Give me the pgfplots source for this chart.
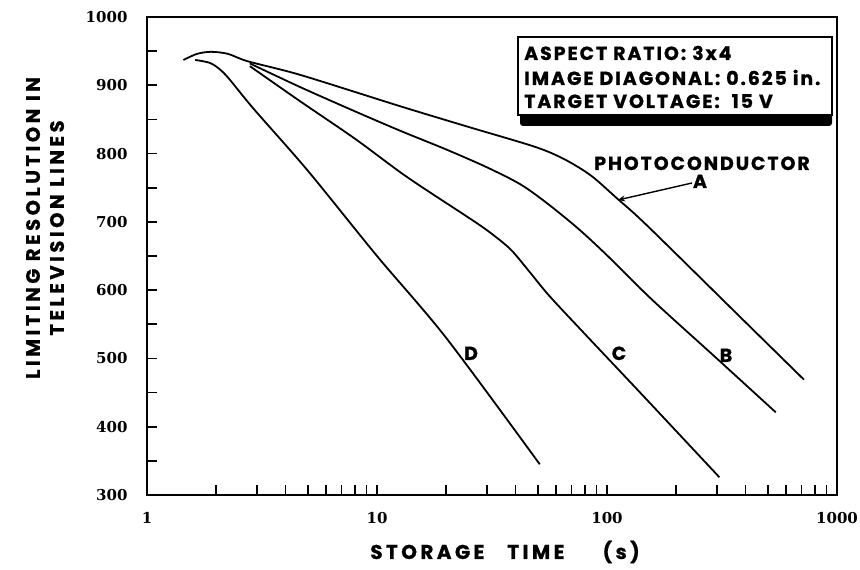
\documentclass[border=0pt]{standalone}
\usepackage{fontspec}
\setmainfont{Poppins}
\newfontfamily\tickfont{DejaVu Serif}
\usepackage{pgfplots}
\pgfplotsset{compat=1.18}
\usetikzlibrary{arrows.meta}
\newcommand\labfont{\bfseries\fontsize{20bp}{25bp}\selectfont\addfontfeatures{LetterSpace=17,FakeBold=0.8}}
\newcommand\ylabfont{\bfseries\fontsize{19.5bp}{24bp}\selectfont\addfontfeatures{LetterSpace=18,FakeBold=0.8}}
\newcommand\boxfont{\bfseries\fontsize{19bp}{22bp}\selectfont\addfontfeatures{LetterSpace=10,FakeBold=0.8}}
\begin{document}
\begin{tikzpicture}[x=1bp,y=1bp]
\path[use as bounding box] (-147,-75) rectangle (713,495);
\begin{axis}[
  at={(0,0)}, anchor=south west,
  scale only axis, width=690bp, height=478bp,
  xmode=log, log basis x=10,
  xmin=1, xmax=1000, ymin=300, ymax=1000,
  xtick={1,10,100,1000}, xticklabels={1,10,100,1000},
  minor xtick={2,3,4,5,6,7,8,9,20,30,40,50,60,70,80,90,200,300,400,500,600,700,800,900},
  ytick={300,400,500,600,700,800,900,1000},
  yticklabels={300,400,500,600,700,800,900,1000},
  minor ytick={350,450,550,650,750,850,950},
  tick pos=left, tick align=inside,
  major tick length=10bp, minor tick length=10bp,
  every tick/.style={black, line width=1.6bp},
  axis line style={line width=2.2bp},
  ticklabel style={font=\tickfont\bfseries\fontsize{15bp}{15bp}\selectfont},
  xticklabel style={yshift=-14bp},
  yticklabel style={xshift=-16bp},
  clip=false,
]
% A
\addplot[line width=1.8bp, smooth, no markers] coordinates {
(1.44,937) (1.65,946) (1.9,949) (2.25,946) (2.75,935) (4.66,915) (12.7,869) (25,839) (48.5,810) (65,792) (85,768) (110,735) (150,694) (400,553) (718,469)};
% B
\addplot[line width=1.8bp, smooth, no markers] coordinates {
(2.8,932) (4.66,897) (8,862) (12.7,833) (20,806) (30,780) (42,755) (55,727) (75,690) (100,651) (157,586) (300,500) (542,421)};
% C
\addplot[line width=1.8bp, smooth, no markers] coordinates {
(2.8,928) (4.66,876) (8,822) (12.7,772) (17.2,742) (23.3,713) (30,688) (38,660) (46,627) (56,592) (80,536) (142,447) (308,326)};
% D
\addplot[line width=1.8bp, smooth, no markers] coordinates {
(1.62,937) (1.9,932) (2.2,915) (2.9,866) (5,775) (10,650) (20,530) (51,345)};
\end{axis}
% label box
\fill[rounded corners=3bp] (373,369) rectangle (685,383);
\draw[line width=1.6bp, fill=white] (371,380) rectangle (685,458);
\node[anchor=base west, inner sep=0] at (377,435) {\boxfont ASPECT RATIO: 3x4};
\node[anchor=base west, inner sep=0] at (377,410) {\boxfont IMAGE DIAGONAL: 0.625 in.};
\node[anchor=base west, inner sep=0] at (377,387) {\boxfont TARGET VOLTAGE:\ \ 15 V};
% curve labels
\node[anchor=base, inner sep=0] at (555,325) {\boxfont PHOTOCONDUCTOR};
\node[anchor=base, inner sep=0] at (553,307) {\boxfont A};
\draw[line width=1.4bp, -{Stealth[length=7bp,width=6bp]}] (545,312) -- (471,295);
\node[anchor=base, inner sep=0] at (324,135) {\boxfont D};
\node[anchor=base, inner sep=0] at (472,135) {\boxfont C};
\node[anchor=base, inner sep=0] at (579,133) {\boxfont B};
% axis titles
\node[anchor=base, inner sep=0] at (358,-64) {\labfont STORAGE\ \ \ TIME\ \ \ \ \ (s)};
\node[rotate=90, align=center, inner sep=0, font=\ylabfont] at (-102,267) {LIMITING RESOLUTION IN\\TELEVISION LINES};
\end{tikzpicture}
\end{document}
